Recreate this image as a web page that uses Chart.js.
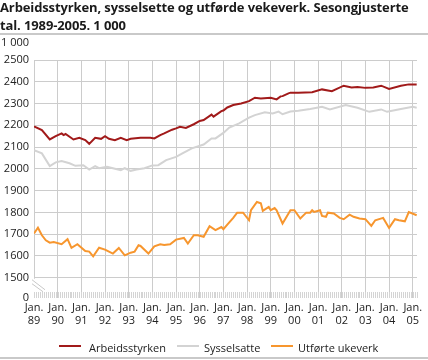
<!DOCTYPE html>
<html>
<head>
<meta charset="utf-8">
<script src="https://cdn.jsdelivr.net/npm/chart.js@4.4.1/dist/chart.umd.min.js"></script>
<style>
  html, body { margin: 0; padding: 0; background: #fff; }
  #wrap { position: relative; width: 428px; height: 360px; overflow: hidden; font-family: 'Open Sans', sans-serif; color: #1a1a1a; }
  #title { position: absolute; left: 0; top: -1px; font-size: 13px; font-weight: bold; line-height: 17.5px; white-space: nowrap; letter-spacing: -0.12px; }
  #rule1 { position: absolute; left: 0; top: 33px; width: 428px; height: 2px; background: #c9c9c9; }
  #rule2 { position: absolute; left: 0; top: 357px; width: 428px; height: 2px; background: #c9c9c9; }
  #unit { position: absolute; left: 1px; top: 35px; font-size: 11px; line-height: 14px; color: #222; }
  #c { position: absolute; left: 0; top: 0; }
  .leg { position: absolute; top: 341px; font-size: 11px; line-height: 14px; color: #222; white-space: nowrap; }
  .sw { position: absolute; top: 345px; height: 2px; width: 22px; }
</style>
</head>
<body>
<div id="wrap">
  <canvas id="c" width="428" height="360"></canvas>
  <div id="title">Arbeidsstyrken, sysselsette og utførde vekeverk. Sesongjusterte<br>tal. 1989-2005. 1 000</div>
  <div id="rule1"></div>
  <div id="unit">1 000</div>
  <div class="sw" style="left:59px;background:#a11a1a"></div><div class="leg" style="left:89px">Arbeidsstyrken</div>
  <div class="sw" style="left:177px;background:#d3d3d3"></div><div class="leg" style="left:204px">Sysselsatte</div>
  <div class="sw" style="left:271px;background:#f7962e"></div><div class="leg" style="left:298px">Utførte ukeverk</div>
  <div id="rule2"></div>
</div>
<script>
// ---- data ----
const arbMonths = ['1989-01','1989-05','1989-09','1989-12','1990-03','1990-04','1990-05','1990-09','1990-12','1991-03','1991-05','1991-08','1991-11','1992-01','1992-03','1992-06','1992-09','1992-12','1993-02','1993-07','1993-12','1994-02','1994-05','1994-07','1994-11','1995-01','1995-03','1995-06','1995-10','1996-01','1996-03','1996-07','1996-08','1996-12','1997-01','1997-03','1997-06','1997-10','1998-02','1998-05','1998-08','1999-01','1999-04','1999-06','1999-07','1999-10','1999-11','2000-03','2000-10','2001-03','2001-08','2002-02','2002-06','2002-09','2003-01','2003-05','2003-09','2004-01','2004-07','2004-11','2005-03'];
const arbValues = [2195,2178,2135,2150,2163,2155,2160,2135,2143,2132,2115,2143,2138,2150,2138,2132,2143,2132,2138,2143,2143,2140,2155,2163,2180,2186,2193,2188,2205,2220,2224,2249,2240,2265,2268,2282,2293,2300,2311,2327,2323,2327,2319,2333,2334,2347,2350,2350,2352,2365,2357,2382,2374,2376,2372,2374,2382,2367,2382,2388,2388];

const sysMonths = ['1989-01','1989-05','1989-09','1989-12','1990-03','1990-07','1990-10','1991-02','1991-05','1991-08','1991-10','1992-02','1992-05','1992-09','1992-11','1993-02','1993-05','1993-09','1994-01','1994-04','1994-08','1995-01','1995-04','1995-09','1996-03','1996-07','1996-09','1997-01','1997-04','1997-09','1998-02','1998-05','1998-10','1999-02','1999-05','1999-07','1999-11','2000-03','2000-09','2001-03','2001-07','2002-03','2002-09','2003-03','2003-09','2003-12','2004-07','2005-01','2005-03'];
const sysValues = [2086,2071,2013,2030,2036,2026,2014,2017,1997,2013,2003,2010,2003,1994,2003,1991,1997,2003,2016,2017,2040,2055,2070,2094,2112,2140,2140,2165,2190,2209,2235,2247,2260,2254,2263,2251,2263,2267,2275,2285,2273,2293,2281,2262,2273,2262,2275,2285,2281];

const ukeMonths = ['1989-01','1989-03','1989-05','1989-07','1989-09','1989-11','1990-03','1990-06','1990-08','1990-11','1991-03','1991-05','1991-07','1991-10','1992-01','1992-03','1992-05','1992-08','1992-11','1993-02','1993-04','1993-06','1993-07','1993-11','1994-02','1994-05','1994-07','1994-10','1995-01','1995-05','1995-07','1995-10','1995-12','1996-03','1996-06','1996-09','1996-12','1997-01','1997-03','1997-06','1997-08','1997-11','1998-02','1998-03','1998-06','1998-08','1998-09','1998-12','1999-01','1999-03','1999-04','1999-07','1999-11','2000-01','2000-04','2000-07','2000-09','2000-10','2000-11','2001-02','2001-03','2001-05','2001-06','2001-09','2001-12','2002-02','2002-05','2002-07','2002-10','2003-01','2003-04','2003-06','2003-10','2004-01','2004-04','2004-06','2004-09','2004-11','2005-03'];
const ukeValues = [1703,1730,1695,1672,1661,1664,1654,1677,1637,1654,1623,1620,1598,1638,1629,1620,1611,1637,1603,1615,1620,1649,1646,1611,1644,1654,1650,1654,1675,1683,1657,1695,1695,1688,1737,1719,1733,1723,1744,1775,1799,1799,1764,1810,1848,1842,1807,1825,1810,1820,1810,1749,1810,1810,1772,1799,1799,1810,1802,1810,1784,1780,1799,1795,1775,1769,1790,1780,1772,1769,1738,1764,1775,1729,1769,1764,1759,1802,1787];

const seriesNames = ['Arbeidsstyrken', 'Sysselsatte', 'Utførte ukeverk'];
const yTickValues = [1500,1600,1700,1800,1900,2000,2100,2200,2300,2400,2500];
const xTickYears = [1989,1990,1991,1992,1993,1994,1995,1996,1997,1998,1999,2000,2001,2002,2003,2004,2005];
const xTickLabelTop = 'Jan.';

// ---- helpers ----
const Y_MIN = 1407, Y_MAX = 2500, X_MIN = 1989, X_MAX = 2005.18;
function toYear(s){ const [y,m] = s.split('-').map(Number); return y + (m-1)/12; }
function pts(months, vals){ return months.map((m,i)=>({x: toYear(m), y: vals[i]})); }

Chart.defaults.font.family = "'Open Sans', sans-serif";
Chart.defaults.font.size = 11;
Chart.defaults.color = '#222';

const decor = {
  id: 'decor',
  beforeDatasetsDraw(chart){
    const {ctx, chartArea, scales} = chart;
    const xs = scales.x, ys = scales.y;
    const bottom = ys.getPixelForValue(Y_MIN);
    const y1500 = ys.getPixelForValue(1500);
    ctx.save();
    // monthly tick band
    ctx.strokeStyle = '#d4d4d4';
    ctx.lineWidth = 1;
    for (let i = 0; X_MIN + i/12 <= X_MAX; i++) {
      const px = Math.round(xs.getPixelForValue(X_MIN + i/12)) + 0.5;
      ctx.beginPath(); ctx.moveTo(px, bottom - 6); ctx.lineTo(px, bottom); ctx.stroke();
    }
    // axis break
    ctx.fillStyle = '#fff';
    ctx.fillRect(chartArea.left - 2, y1500 + 1, 4, bottom - 7 - y1500);
    ctx.strokeStyle = '#c8c8c8';
    ctx.beginPath();
    ctx.moveTo(chartArea.left - 2, y1500 + 2); ctx.lineTo(chartArea.left + 11, y1500 + 12);
    ctx.moveTo(chartArea.left - 2, y1500 + 6); ctx.lineTo(chartArea.left + 9, y1500 + 14);
    ctx.stroke();
    ctx.restore();
  }
};

new Chart(document.getElementById('c'), {
  type: 'line',
  data: {
    datasets: [
      { label: seriesNames[0], data: pts(arbMonths, arbValues), borderColor: '#a11a1a', borderWidth: 2, pointRadius: 0, tension: 0 },
      { label: seriesNames[1], data: pts(sysMonths, sysValues), borderColor: '#d3d3d3', borderWidth: 2, pointRadius: 0, tension: 0 },
      { label: seriesNames[2], data: pts(ukeMonths, ukeValues), borderColor: '#f7962e', borderWidth: 2, pointRadius: 0, tension: 0 }
    ]
  },
  options: {
    responsive: false,
    animation: false,
    layout: { padding: { top: 60, left: 0, right: 11, bottom: 0 } },
    plugins: { legend: { display: false }, tooltip: { enabled: false } },
    scales: {
      x: {
        type: 'linear', min: X_MIN, max: X_MAX,
        afterBuildTicks(s){ s.ticks = xTickYears.map(v=>({value:v})); },
        afterFit(s){ s.height = 62; },
        ticks: { autoSkip: false, maxRotation: 0, padding: 3, color: '#222',
          callback(v){ return [xTickLabelTop, String(v % 100).padStart(2,'0')]; } },
        grid: { color: '#cccccc', lineWidth: 1, drawTicks: false },
        border: { display: false }
      },
      y: {
        min: Y_MIN, max: Y_MAX,
        afterBuildTicks(s){ s.ticks = [Y_MIN].concat(yTickValues).map(v=>({value:v})); },
        afterFit(s){ s.width = 34; },
        ticks: { padding: 5, color: '#222', callback(v){ return v === Y_MIN ? '0' : String(v); } },
        grid: { color(c){ return c.tick && c.tick.value === Y_MIN ? 'rgba(0,0,0,0)' : '#cccccc'; }, lineWidth: 1, drawTicks: false },
        border: { display: false }
      }
    }
  },
  plugins: [decor]
});
</script>
</body>
</html>
